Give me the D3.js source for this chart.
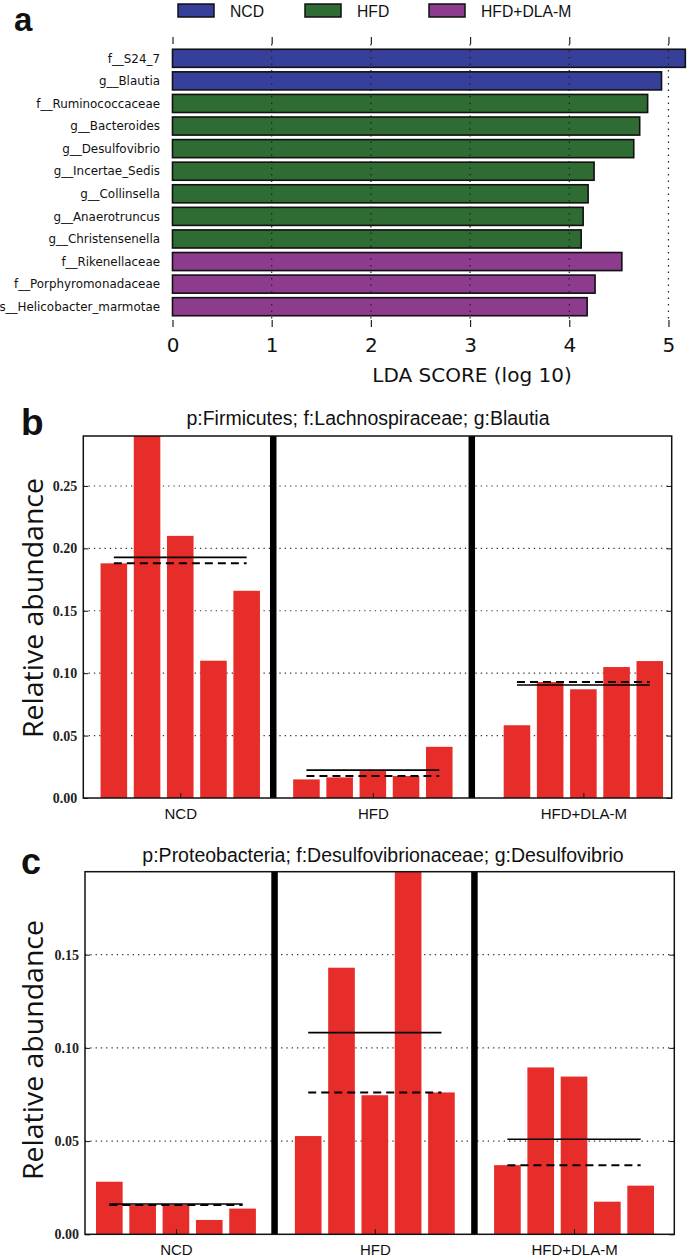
<!DOCTYPE html>
<html><head><meta charset="utf-8">
<script src="https://cdn.jsdelivr.net/npm/d3@7"></script>
<style>body{margin:0;background:#fff} svg{display:block}</style>
</head><body><svg id="chart" width="689" height="1260"></svg>
<script>
// ---------- data ----------
const groupNames = ["NCD", "HFD", "HFD+DLA-M"];
const ldaFeatures = ["f__S24_7", "g__Blautia", "f__Ruminococcaceae", "g__Bacteroides", "g__Desulfovibrio",
  "g__Incertae_Sedis", "g__Collinsella", "g__Anaerotruncus", "g__Christensenella",
  "f__Rikenellaceae", "f__Porphyromonadaceae", "s__Helicobacter_marmotae"];
const ldaScores = [5.17, 4.93, 4.79, 4.71, 4.65, 4.25, 4.19, 4.14, 4.12, 4.53, 4.26, 4.18];
const ldaClass = ["NCD", "NCD", "HFD", "HFD", "HFD", "HFD", "HFD", "HFD", "HFD",
  "HFD+DLA-M", "HFD+DLA-M", "HFD+DLA-M"];
const ldaTicks = [0, 1, 2, 3, 4, 5];

const blautiaNCD = [0.188, 0.290, 0.210, 0.110, 0.166];
const blautiaHFD = [0.0149, 0.0165, 0.0216, 0.0176, 0.0410];
const blautiaDLA = [0.0583, 0.0929, 0.0871, 0.1049, 0.1097];
const blautiaTicks = [0, 0.05, 0.10, 0.15, 0.20, 0.25];

const desulfoNCD = [0.0282, 0.0157, 0.0157, 0.0077, 0.0138];
const desulfoHFD = [0.0527, 0.1430, 0.0746, 0.1945, 0.0761];
const desulfoDLA = [0.0371, 0.0895, 0.0846, 0.0175, 0.0261];
const desulfoTicks = [0, 0.05, 0.10, 0.15];

// ---------- drawing ----------
const svg = d3.select("#chart");
const classColor = d3.scaleOrdinal().domain(groupNames).range(["#36409a", "#2f6c34", "#8d3b8c"]);

// panel letters
[["a", 14, 31, 33], ["b", 21, 435, 37], ["c", 21, 874, 36]].forEach(([t, x, y, s]) => {
  svg.append("text").attr("x", x).attr("y", y).text(t)
    .attr("font-family", "Liberation Sans, Arial, sans-serif").attr("font-weight", "bold")
    .attr("font-size", s).attr("fill", "#111");
});

// ----- panel a -----
(function () {
  const x = d3.scaleLinear().domain([0, 5.2]).range([172.5, 688.3]);
  const y = d3.scaleBand().domain(ldaFeatures).range([47, 318]).paddingInner(0.2).paddingOuter(0.1);
  const g = svg.append("g");

  // legend
  const lx = [178, 305, 429];
  groupNames.forEach((n, i) => {
    g.append("rect").attr("x", lx[i]).attr("y", 4).attr("width", 36).attr("height", 13)
      .attr("fill", classColor(n)).attr("stroke", "#111").attr("stroke-width", 1.5);
    g.append("text").attr("x", lx[i] + 52).attr("y", 17).text(n)
      .attr("font-family", "Liberation Sans, Arial, sans-serif").attr("font-size", 15.7).attr("fill", "#111");
  });

  // bars
  g.selectAll("rect.lda").data(ldaFeatures).join("rect").attr("class", "lda")
    .attr("x", x(0)).attr("y", d => y(d))
    .attr("width", (d, i) => x(ldaScores[i]) - x(0)).attr("height", y.bandwidth())
    .attr("fill", (d, i) => classColor(ldaClass[i])).attr("stroke", "#111").attr("stroke-width", 1.6);

  // dotted grid over bars
  g.selectAll("line.grid").data(ldaTicks.filter(t => t > 0)).join("line").attr("class", "grid")
    .attr("x1", d => x(d)).attr("x2", d => x(d)).attr("y1", 44).attr("y2", 320)
    .attr("stroke", "#222").attr("stroke-width", 1.2).attr("stroke-dasharray", "1.5,5");

  // ticks top and bottom
  const axB = d3.axisBottom(x).tickValues(ldaTicks).tickFormat(d3.format("d")).tickSize(7).tickPadding(11);
  const gb = g.append("g").attr("transform", "translate(0,320)").call(axB);
  gb.select(".domain").remove();
  gb.selectAll("line").attr("stroke", "#222").attr("stroke-width", 1.2);
  gb.selectAll("text").attr("font-family", "DejaVu Sans, sans-serif").attr("font-size", 20).attr("fill", "#111");
  const axT = d3.axisTop(x).tickValues(ldaTicks).tickFormat("").tickSize(7);
  const gt = g.append("g").attr("transform", "translate(0,44)").call(axT);
  gt.select(".domain").remove();
  gt.selectAll("line").attr("stroke", "#222").attr("stroke-width", 1.2);

  // feature labels
  g.selectAll("text.feat").data(ldaFeatures).join("text").attr("class", "feat")
    .attr("x", 160).attr("y", d => y(d) + y.bandwidth() / 2).attr("dy", "0.36em")
    .attr("text-anchor", "end").text(d => d)
    .attr("font-family", "DejaVu Sans, sans-serif").attr("font-size", 11.9).attr("fill", "#111");

  g.append("text").attr("x", 472).attr("y", 382).attr("text-anchor", "middle").text("LDA SCORE (log 10)")
    .attr("font-family", "DejaVu Sans, sans-serif").attr("font-size", 20).attr("fill", "#111");
})();

// ----- panels b and c -----
function abundancePanel(cfg) {
  const vals = cfg.values;
  const y = d3.scaleLinear().domain([0, d3.max(vals.flat())]).range([cfg.bottom, cfg.top]);
  // x in "bar pitch" units measured from the left frame edge
  const x = d3.scaleLinear().domain([0, cfg.width]).range([cfg.left, cfg.right]);
  const pos = (gi, j) => cfg.firstBar[gi] + j;
  const bw = x(0.8) - x(0);
  const g = svg.append("g");
  const clipId = "clip" + cfg.id;
  g.append("clipPath").attr("id", clipId).append("rect")
    .attr("x", cfg.left).attr("y", cfg.top).attr("width", cfg.right - cfg.left).attr("height", cfg.bottom - cfg.top);

  // title
  g.append("text").attr("x", cfg.titleX).attr("y", cfg.titleY).attr("text-anchor", "middle").text(cfg.title)
    .attr("font-family", "Liberation Sans, Arial, sans-serif").attr("font-size", 19.5).attr("fill", "#111");

  // dotted grid
  g.selectAll("line.grid").data(cfg.ticks.filter(t => t > 0)).join("line").attr("class", "grid")
    .attr("x1", cfg.left).attr("x2", cfg.right).attr("y1", d => y(d)).attr("y2", d => y(d))
    .attr("stroke", "#333").attr("stroke-width", 1.1).attr("stroke-dasharray", "1.3,4");

  // bars
  const bars = g.append("g").attr("clip-path", `url(#${clipId})`);
  vals.forEach((arr, gi) => {
    bars.selectAll(null).data(arr).join("rect")
      .attr("x", (d, j) => x(pos(gi, j)) - bw / 2).attr("width", bw)
      .attr("y", d => y(d)).attr("height", d => y(0) - y(d))
      .attr("fill", "#e72d29");
  });

  // group separators
  g.selectAll("line.sep").data(cfg.seps).join("line").attr("class", "sep")
    .attr("x1", d => x(d)).attr("x2", d => x(d)).attr("y1", cfg.top).attr("y2", cfg.bottom)
    .attr("stroke", "#000").attr("stroke-width", 6.5);

  // mean (solid) and median (dashed)
  vals.forEach((arr, gi) => {
    const x1 = x(pos(gi, 0)), x2 = x(pos(gi, arr.length - 1));
    g.append("line").attr("x1", x1).attr("x2", x2).attr("y1", y(d3.mean(arr))).attr("y2", y(d3.mean(arr)))
      .attr("stroke", "#000").attr("stroke-width", 1.6);
    g.append("line").attr("x1", x1).attr("x2", x2).attr("y1", y(d3.median(arr))).attr("y2", y(d3.median(arr)))
      .attr("stroke", "#000").attr("stroke-width", 2).attr("stroke-dasharray", "8,5");
  });

  // frame
  g.append("rect").attr("x", cfg.left).attr("y", cfg.top).attr("width", cfg.right - cfg.left)
    .attr("height", cfg.bottom - cfg.top).attr("fill", "none").attr("stroke", "#111").attr("stroke-width", 1.5);

  // y ticks (inward, both sides) and labels
  const axL = d3.axisLeft(y).tickValues(cfg.ticks).tickFormat(d3.format(".2f")).tickSize(-5).tickPadding(6);
  const gl = g.append("g").attr("transform", `translate(${cfg.left},0)`).call(axL);
  gl.select(".domain").remove();
  gl.selectAll("line").attr("stroke", "#111");
  gl.selectAll("text").attr("font-family", "Liberation Serif, Times New Roman, serif")
    .attr("font-weight", "bold").attr("font-size", 14).attr("fill", "#222");
  const axR = d3.axisRight(y).tickValues(cfg.ticks).tickFormat("").tickSize(-5);
  const gr = g.append("g").attr("transform", `translate(${cfg.right},0)`).call(axR);
  gr.select(".domain").remove();
  gr.selectAll("line").attr("stroke", "#111");

  // x group ticks (middle sample) and labels
  const axX = d3.axisBottom(x).tickValues(groupNames.map((n, gi) => pos(gi, 2)))
    .tickFormat((d, i) => groupNames[i]).tickSize(-5).tickPadding(cfg.labelPad);
  const gxx = g.append("g").attr("transform", `translate(0,${cfg.bottom})`).call(axX);
  gxx.select(".domain").remove();
  gxx.selectAll("line").attr("stroke", "#111");
  gxx.selectAll("text").attr("font-family", "Liberation Sans, Arial, sans-serif").attr("font-size", 15).attr("fill", "#111");

  // y label
  g.append("text").attr("transform", `translate(43,${cfg.ylabelY}) rotate(-90)`).attr("text-anchor", "middle")
    .text("Relative abundance").attr("font-family", "Open Sans, sans-serif").attr("font-size", 27)
    .attr("textLength", 260).attr("lengthAdjust", "spacingAndGlyphs").attr("fill", "#111");
}

abundancePanel({
  id: "b", values: [blautiaNCD, blautiaHFD, blautiaDLA], ticks: blautiaTicks,
  title: "p:Firmicutes; f:Lachnospiraceae; g:Blautia",
  left: 83.3, right: 671.7, top: 436, bottom: 798, width: 17.72,
  firstBar: [0.92, 6.72, 13.06], seps: [5.72, 11.70],
  titleX: 368, titleY: 425, labelPad: 10, ylabelY: 608
});
abundancePanel({
  id: "c", values: [desulfoNCD, desulfoHFD, desulfoDLA], ticks: desulfoTicks,
  title: "p:Proteobacteria; f:Desulfovibrionaceae; g:Desulfovibrio",
  left: 85, right: 674.3, top: 871.7, bottom: 1234.3, width: 17.69,
  firstBar: [0.73, 6.70, 12.68], seps: [5.69, 11.69],
  titleX: 383, titleY: 862, labelPad: 10, ylabelY: 1050
});
</script>
</body></html>
